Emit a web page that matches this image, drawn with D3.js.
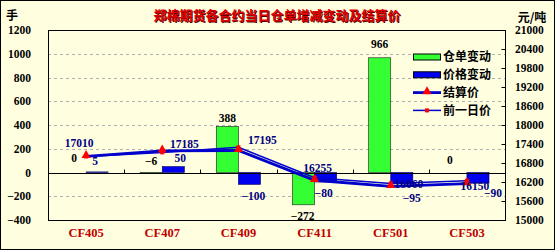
<!DOCTYPE html>
<html lang="zh">
<head>
    <meta charset="UTF-8"/>
    <title>郑棉期货各合约当日仓单增减变动及结算价</title>
    <script src="https://d3js.org/d3.v7.min.js"></script>
    <style>
        body { margin: 0; background: #fff; }
        svg text { font-family: "Liberation Serif", "Times New Roman", serif; font-weight: bold; }
        svg .cjk { font-family: "Noto Sans CJK SC", sans-serif; font-weight: bold; }
    </style>
</head>
<body>
    <div id="chart"></div>

    <script>
        // contracts and values
        const contracts = ["CF405", "CF407", "CF409", "CF411", "CF501", "CF503"];
        const stockChange = [0, -6, 388, -272, 966, 0];          // 仓单变动 (手)
        const priceChange = [5, 50, -100, -80, -95, -90];        // 价格变动
        const settlePrice = [17010, 17185, 17195, 16255, 16060, 16150]; // 结算价
        const prevPrice = [17005, 17135, 17295, 16335, 16155, 16240];   // 前一日价
        const leftTicks = [-400, -200, 0, 200, 400, 600, 800, 1000, 1200];
        const rightTicks = [15000, 15600, 16200, 16800, 17400, 18000, 18600, 19200, 19800, 20400, 21000];
        const legendNames = ["仓单变动", "价格变动", "结算价", "前一日价"];

        // small nudges for the data labels [dx, dy]
        const stockNudge = [[-1, -11], [0, -8], [0, -4], [-1, 15], [0, -10], [-6, -9]];
        const priceNudge = [[-2, -7], [7, -5], [4, 16], [-2, 15], [10, 18], [15, 14]];
        const settleNudge = [[-7, -9], [22, -3], [24, -6], [3, -8], [18, 2], [8, 6]];

        const w = 555, h = 250;
        const plot = { left: 48, right: 505, top: 30, bottom: 220 };
        const bg = "#ffffe0";
        const green = "#33ff33", blue = "#0000ee", lineBlue = "#0000cc", navy = "#000080";
        const numFmt = d => d < 0 ? "\u2212" + Math.abs(d) : String(d);

        const svg = d3.select("#chart").append("svg")
            .attr("width", w)
            .attr("height", h);

        // chart background and frame
        svg.append("rect")
            .attr("x", 0.5).attr("y", 0.5)
            .attr("width", w - 1).attr("height", h - 1)
            .attr("fill", bg)
            .attr("stroke", "#000");

        // scales
        const x = d3.scaleBand()
            .domain(contracts)
            .range([plot.left, plot.right])
            .paddingInner(0.42)
            .paddingOuter(0.21);
        const xSub = d3.scaleBand()
            .domain(["stock", "price"])
            .range([0, x.bandwidth()]);
        const cx = c => x(c) + x.bandwidth() / 2;

        const yL = d3.scaleLinear().domain([-400, 1200]).range([plot.bottom, plot.top]);
        const yR = d3.scaleLinear().domain([15000, 21000]).range([plot.bottom, plot.top]);

        // dashed gridlines
        svg.append("g").selectAll("line")
            .data(leftTicks.filter(t => t !== 0 && t !== -400 && t !== 1200))
            .enter().append("line")
            .attr("x1", plot.left).attr("x2", plot.right)
            .attr("y1", d => Math.round(yL(d)) + 0.5)
            .attr("y2", d => Math.round(yL(d)) + 0.5)
            .attr("stroke", "#b0b0b0")
            .attr("stroke-dasharray", "3,3");

        // plot area border
        svg.append("rect")
            .attr("x", plot.left + 0.5).attr("y", plot.top + 0.5)
            .attr("width", plot.right - plot.left).attr("height", plot.bottom - plot.top)
            .attr("fill", "none")
            .attr("stroke", "#000");

        // bars
        const rows = contracts.map((c, i) => ({ c, i, stock: stockChange[i], price: priceChange[i] }));

        svg.append("g").selectAll("rect")
            .data(rows)
            .enter().append("rect")
            .attr("x", d => x(d.c) + xSub("stock"))
            .attr("width", xSub.bandwidth())
            .attr("y", d => yL(Math.max(0, d.stock)))
            .attr("height", d => Math.abs(yL(d.stock) - yL(0)))
            .attr("fill", green)
            .attr("stroke", "#1a1a1a")
            .attr("stroke-width", 0.6);

        svg.append("g").selectAll("rect")
            .data(rows)
            .enter().append("rect")
            .attr("x", d => x(d.c) + xSub("price"))
            .attr("width", xSub.bandwidth())
            .attr("y", d => yL(Math.max(0, d.price)))
            .attr("height", d => Math.abs(yL(d.price) - yL(0)))
            .attr("fill", blue)
            .attr("stroke", "#000060")
            .attr("stroke-width", 0.6);

        // zero line with small category ticks
        const y0 = Math.round(yL(0)) + 0.5;
        svg.append("line")
            .attr("x1", plot.left).attr("x2", plot.right)
            .attr("y1", y0).attr("y2", y0)
            .attr("stroke", "#000");
        svg.append("g").selectAll("line")
            .data(d3.range(1, contracts.length))
            .enter().append("line")
            .attr("x1", i => Math.round(plot.left + i * x.step()) + 0.5)
            .attr("x2", i => Math.round(plot.left + i * x.step()) + 0.5)
            .attr("y1", y0 - 4).attr("y2", y0)
            .attr("stroke", "#000");

        // left axis
        svg.append("g")
            .attr("transform", `translate(${plot.left},0)`)
            .call(d3.axisLeft(yL).tickValues(leftTicks).tickFormat(numFmt).tickSize(0).tickPadding(17))
            .call(g => g.select(".domain").remove())
            .selectAll("text")
            .attr("font-size", "11.5px")
            .attr("fill", "#000");

        // right axis
        svg.append("g")
            .attr("transform", `translate(${plot.right},0)`)
            .call(d3.axisRight(yR).tickValues(rightTicks).tickFormat(numFmt)
                .tickSizeInner(-4).tickSizeOuter(0).tickPadding(10))
            .call(g => g.select(".domain").remove())
            .call(g => g.selectAll("line").attr("stroke", "#000").attr("transform", "translate(0.5,0)"))
            .selectAll("text")
            .attr("font-size", "11.5px")
            .attr("fill", "#000");

        // category axis labels
        svg.append("g")
            .attr("transform", `translate(0,${plot.bottom})`)
            .call(d3.axisBottom(x).tickSize(0).tickPadding(8).tickSizeOuter(0))
            .call(g => g.select(".domain").remove())
            .selectAll("text")
            .attr("font-size", "12.5px")
            .attr("fill", "#c00000");

        // price lines
        const line = d3.line()
            .x((d, i) => cx(contracts[i]))
            .y(d => yR(d));

        svg.append("path")
            .datum(prevPrice)
            .attr("d", line)
            .attr("fill", "none")
            .attr("stroke", lineBlue)
            .attr("stroke-width", 1.5);

        svg.append("path")
            .datum(settlePrice)
            .attr("d", line)
            .attr("fill", "none")
            .attr("stroke", lineBlue)
            .attr("stroke-width", 2.8);

        svg.append("g").selectAll("rect")
            .data(prevPrice)
            .enter().append("rect")
            .attr("x", (d, i) => cx(contracts[i]) - 2)
            .attr("y", d => yR(d) - 2)
            .attr("width", 4).attr("height", 4)
            .attr("fill", "#ff0000");

        const tri = d3.symbol(d3.symbolTriangle, 36);
        svg.append("g").selectAll("path")
            .data(settlePrice)
            .enter().append("path")
            .attr("d", tri)
            .attr("transform", (d, i) => `translate(${cx(contracts[i])},${yR(d) - 1})`)
            .attr("fill", "#ff0000");

        // data labels
        svg.append("g").selectAll("text")
            .data(rows)
            .enter().append("text")
            .attr("x", d => x(d.c) + xSub("stock") + xSub.bandwidth() / 2 + stockNudge[d.i][0])
            .attr("y", d => yL(d.stock) + stockNudge[d.i][1])
            .attr("text-anchor", "middle")
            .attr("font-size", "11.5px")
            .attr("fill", "#000")
            .text(d => numFmt(d.stock));

        svg.append("g").selectAll("text")
            .data(rows)
            .enter().append("text")
            .attr("x", d => x(d.c) + xSub("price") + xSub.bandwidth() / 2 + priceNudge[d.i][0])
            .attr("y", d => yL(d.price) + priceNudge[d.i][1])
            .attr("text-anchor", "middle")
            .attr("font-size", "11.5px")
            .attr("fill", navy)
            .text(d => numFmt(d.price));

        svg.append("g").selectAll("text")
            .data(settlePrice)
            .enter().append("text")
            .attr("x", (d, i) => cx(contracts[i]) + settleNudge[i][0])
            .attr("y", (d, i) => yR(d) + settleNudge[i][1])
            .attr("text-anchor", "middle")
            .attr("font-size", "11.5px")
            .attr("fill", navy)
            .text(d => d);

        // legend
        const legend = svg.append("g").attr("transform", "translate(413,57)");
        const item = legend.selectAll("g")
            .data(legendNames)
            .enter().append("g")
            .attr("transform", (d, i) => `translate(0,${i * 17.8})`);

        item.filter((d, i) => i < 2).append("rect")
            .attr("x", 0.5).attr("y", -3)
            .attr("width", 27).attr("height", 6)
            .attr("fill", (d, i) => i === 0 ? green : blue)
            .attr("stroke", "#000");

        item.filter((d, i) => i === 2).append("line")
            .attr("x1", 0).attr("x2", 28).attr("y1", 0).attr("y2", 0)
            .attr("stroke", lineBlue).attr("stroke-width", 2.8);
        item.filter((d, i) => i === 2).append("path")
            .attr("d", tri)
            .attr("transform", "translate(14,-1)")
            .attr("fill", "#ff0000");

        item.filter((d, i) => i === 3).append("line")
            .attr("x1", 0).attr("x2", 28).attr("y1", 0).attr("y2", 0)
            .attr("stroke", lineBlue).attr("stroke-width", 1.5);
        item.filter((d, i) => i === 3).append("rect")
            .attr("x", 12).attr("y", -2).attr("width", 4).attr("height", 4)
            .attr("fill", "#ff0000");

        item.append("text")
            .attr("class", "cjk")
            .attr("x", 30)
            .attr("y", 0)
            .attr("dy", "0.36em")
            .attr("font-size", "12px")
            .attr("fill", "#000")
            .text(d => d);

        // units
        svg.append("text")
            .attr("class", "cjk")
            .attr("x", 12).attr("y", 16).attr("dy", "0.36em")
            .attr("text-anchor", "middle")
            .attr("font-size", "12px")
            .text("手");

        svg.append("text")
            .attr("class", "cjk")
            .attr("x", 532).attr("y", 18).attr("dy", "0.36em")
            .attr("text-anchor", "middle")
            .attr("font-size", "12px")
            .text("元/吨");

        // title with a dark shadow
        const title = "郑棉期货各合约当日仓单增减变动及结算价";
        svg.append("text")
            .attr("class", "cjk")
            .attr("x", 278).attr("y", 16).attr("dy", "0.36em")
            .attr("text-anchor", "middle")
            .attr("font-size", "13px")
            .attr("fill", "#500000")
            .text(title);
        svg.append("text")
            .attr("class", "cjk")
            .attr("x", 277).attr("y", 15).attr("dy", "0.36em")
            .attr("text-anchor", "middle")
            .attr("font-size", "13px")
            .attr("fill", "#e00000")
            .text(title);
    </script>
</body>
</html>
